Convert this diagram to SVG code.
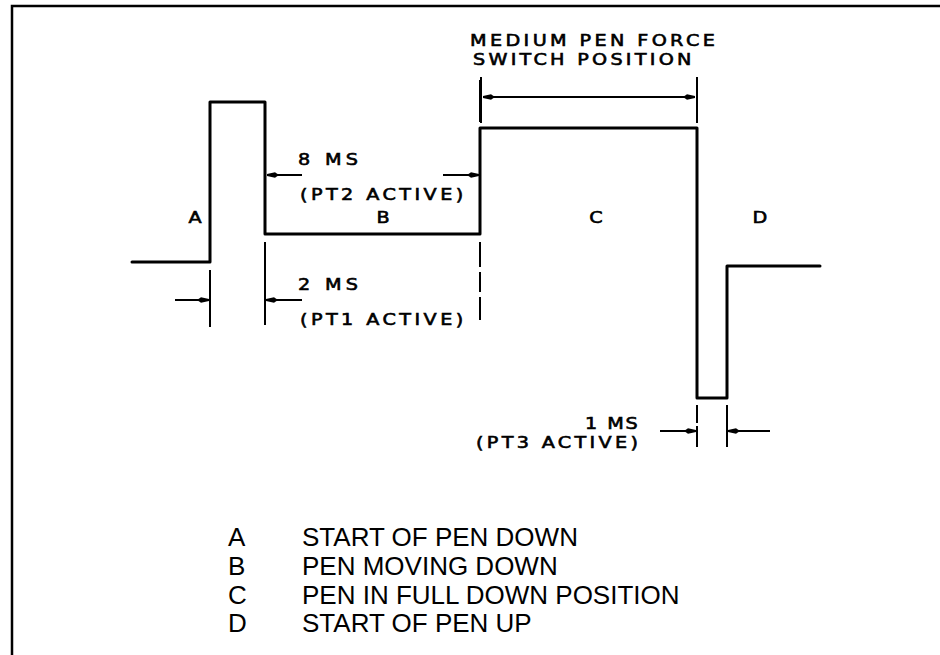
<svg xmlns="http://www.w3.org/2000/svg" width="940" height="655" viewBox="0 0 940 655">
<style>
.frame{fill:none;stroke:#000;stroke-width:2.5}
.wave{fill:none;stroke:#000;stroke-width:3;stroke-linejoin:round;stroke-linecap:round}
.dim{fill:none;stroke:#000;stroke-width:2}
.tick{fill:none;stroke:#000;stroke-width:2}
.lbl{font-family:"DejaVu Sans",sans-serif;font-size:16px;fill:#000;stroke:#000;stroke-width:0.6}
.leg{font-family:"Liberation Sans",Arial,sans-serif;font-size:26px;fill:#000}
</style>
<defs>
<marker id="ah" markerUnits="userSpaceOnUse" markerWidth="14" markerHeight="10" refX="12" refY="5" orient="auto-start-reverse">
<path d="M0,5 L4,2.2 L12,4 L12,6 L4,7.8 Z" fill="#000"/>
</marker>
</defs>
<rect width="940" height="655" fill="#fff"/>
<path class="frame" d="M12,655 L12,6 L940,6"/>
<g id="waveform">
<path class="wave" d="M132,262 L210,262 L210,102 L265,102 L265,234 L480,234 L480,128 L697,128 L697,398 L727,398 L727,266 L820,266"/>
</g>
<g id="connectors">
<line class="tick" x1="481" y1="77" x2="481" y2="123"/>
<line class="tick" x1="697" y1="77" x2="697" y2="123"/>
<line class="dim" x1="589" y1="97" x2="483" y2="97" marker-end="url(#ah)"/>
<line class="dim" x1="589" y1="97" x2="695" y2="97" marker-end="url(#ah)"/>
<line class="tick" x1="480" y1="80" x2="480" y2="122"/>
<line class="dim" x1="302" y1="175" x2="267" y2="175" marker-end="url(#ah)"/>
<line class="dim" x1="443" y1="175" x2="479" y2="175" marker-end="url(#ah)"/>
<line class="tick" x1="210" y1="270" x2="210" y2="327"/>
<line class="tick" x1="265" y1="242" x2="265" y2="325"/>
<line class="tick" x1="480" y1="242" x2="480" y2="320" stroke-dasharray="25,5,20,5"/>
<line class="dim" x1="175" y1="300" x2="209" y2="300" marker-end="url(#ah)"/>
<line class="dim" x1="302" y1="300" x2="266" y2="300" marker-end="url(#ah)"/>
<line class="tick" x1="697" y1="405" x2="697" y2="447" stroke-dasharray="18,3,30"/>
<line class="tick" x1="727" y1="405" x2="727" y2="447"/>
<line class="dim" x1="660" y1="431" x2="696" y2="431" marker-end="url(#ah)"/>
<line class="dim" x1="770" y1="431" x2="728" y2="431" marker-end="url(#ah)"/>
</g>
<g id="label-medium">
<text class="lbl" transform="translate(470,46) scale(1.2,1)" textLength="204" lengthAdjust="spacing">MEDIUM PEN FORCE</text>
<text class="lbl" transform="translate(473,65) scale(1.2,1)" textLength="182" lengthAdjust="spacing">SWITCH POSITION</text>
</g>
<g id="label-8ms">
<text class="lbl" transform="translate(298,165) scale(1.2,1)" textLength="50" lengthAdjust="spacing">8 MS</text>
<text class="lbl" transform="translate(300,200) scale(1.2,1)" textLength="136" lengthAdjust="spacing">(PT2 ACTIVE)</text>
</g>
<g id="label-2ms">
<text class="lbl" transform="translate(298,290) scale(1.2,1)" textLength="50" lengthAdjust="spacing">2 MS</text>
<text class="lbl" transform="translate(300,325) scale(1.2,1)" textLength="136" lengthAdjust="spacing">(PT1 ACTIVE)</text>
</g>
<g id="label-1ms">
<text class="lbl" transform="translate(585,429) scale(1.2,1)" textLength="44" lengthAdjust="spacing">1 MS</text>
<text class="lbl" transform="translate(476,448) scale(1.2,1)" textLength="135" lengthAdjust="spacing">(PT3 ACTIVE)</text>
</g>
<g id="region-labels">
<text class="lbl" transform="translate(195,223) scale(1.2,1)" text-anchor="middle">A</text>
<text class="lbl" transform="translate(383,223) scale(1.2,1)" text-anchor="middle">B</text>
<text class="lbl" transform="translate(596,223) scale(1.2,1)" text-anchor="middle">C</text>
<text class="lbl" transform="translate(760,223) scale(1.2,1)" text-anchor="middle">D</text>
</g>
<g id="legend">
<text class="leg" x="228" y="546">A</text>
<text class="leg" x="302" y="546">START OF PEN DOWN</text>
<text class="leg" x="228" y="575">B</text>
<text class="leg" x="302" y="575">PEN MOVING DOWN</text>
<text class="leg" x="228" y="603.5">C</text>
<text class="leg" x="302" y="603.5">PEN IN FULL DOWN POSITION</text>
<text class="leg" x="228" y="632">D</text>
<text class="leg" x="302" y="632">START OF PEN UP</text>
</g>
</svg>
